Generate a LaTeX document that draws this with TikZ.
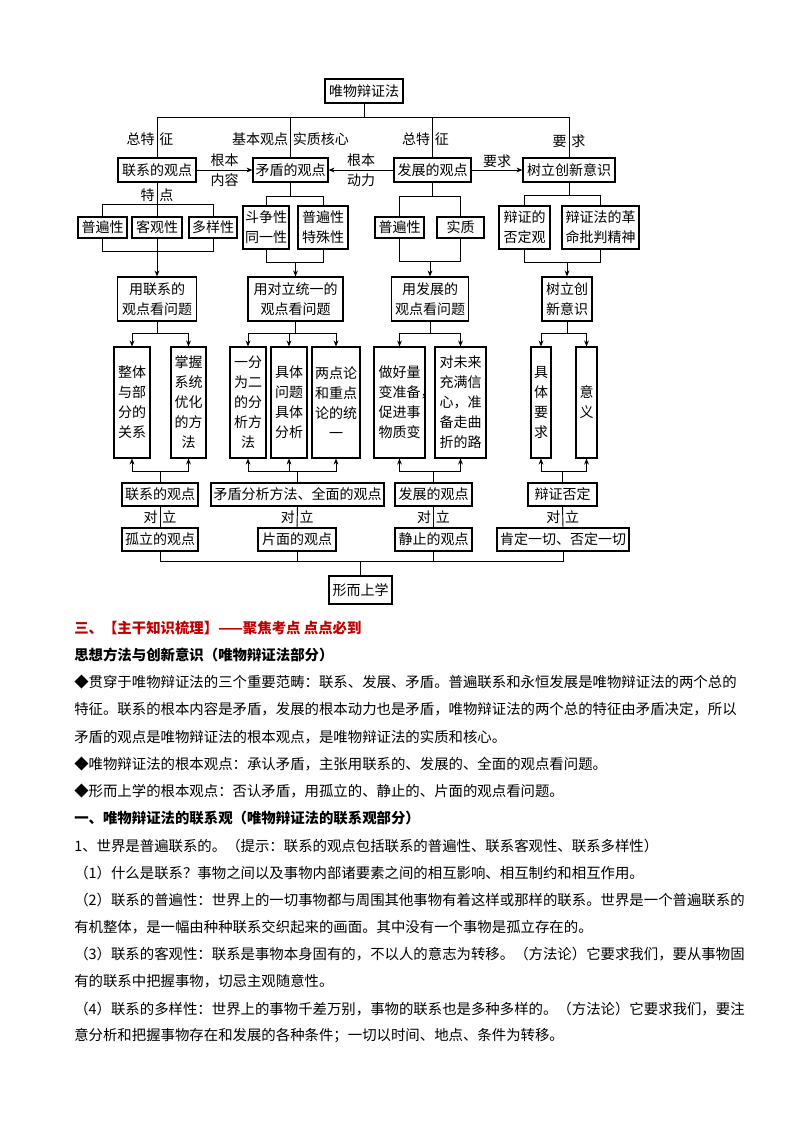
\documentclass[tikz,border=0pt]{standalone}
\usepackage{fontspec}
\setmainfont{Noto Sans CJK SC}
\usepackage{xcolor}
\usetikzlibrary{arrows.meta, positioning, calc}
\definecolor{titlered}{RGB}{192,0,0}
\newcommand{\dgfont}{\fontsize{10.5}{15}\selectfont}
\newcommand{\bodyfont}{\fontsize{10.8}{13}\selectfont}

\begin{document}
\begin{tikzpicture}[x=0.75pt, y=-0.75pt,
    box/.style={rectangle, draw, line width=0.8pt, fill=white, inner sep=0pt, align=center, font=\dgfont},
    tallbox/.style={box, minimum height=83.25pt},
    ln/.style={line width=0.7pt},
    arr/.style={ln, -{Stealth[length=4.5pt, width=3.6pt]}},
    lab/.style={font=\dgfont, inner sep=1.5pt},
    body/.style={anchor=west, inner sep=0pt, font=\bodyfont},
    bodybold/.style={anchor=west, inner sep=0pt, font=\bodyfont\bfseries}
]
    \useasboundingbox (0,0) rectangle (794,1123);

    % 第一层：唯物辩证法
    \node[box, minimum width=58.5pt, minimum height=18pt] (root) at (364,91) {唯物辩证法};

    % 第二层 (y = 170)：四个观点
    \node[box, minimum width=58.5pt, minimum height=18pt] (lianxi) at (157,170) {联系的观点};
    \node[box, minimum width=56.25pt, minimum height=18pt] (maodun) at (290.5,170) {矛盾的观点};
    \node[box, minimum width=57.75pt, minimum height=18pt] (fazhan) at (432.5,170) {发展的观点};
    \node[box, minimum width=69pt, minimum height=18pt] (chuangxin) at (569,170) {树立创新意识};

    \draw[ln] (root.south) -- (root.south |- 0,117);
    \draw[ln] (lianxi.north |- 0,117) -- (chuangxin.north |- 0,117);
    \draw[ln] (lianxi.north |- 0,117) -- node[lab, pos=0.55, left] (zta) {总特} node[lab, pos=0.55, right] (zza) {征} (lianxi.north);
    \draw[ln] (maodun.north |- 0,117) -- node[lab, pos=0.55, left] (jbgd) {基本观点} node[lab, pos=0.55, right] (szhx) {实质核心} (maodun.north);
    \draw[ln] (fazhan.north |- 0,117) -- node[lab, pos=0.55, left] (ztb) {总特} node[lab, pos=0.55, right] (zzb) {征} (fazhan.north);
    \draw[ln] (chuangxin.north |- 0,117) -- node[lab, pos=0.6, left] (yao) {要} node[lab, pos=0.6, right] (qiu) {求} (chuangxin.north);

    \draw[arr] (lianxi.east) -- node[lab, align=center] (gbnr) {根本\\内容} (maodun.west);
    \draw[arr] (fazhan.west) -- node[lab, align=center] (gbdl) {根本\\动力} (maodun.east);
    \draw[arr] (fazhan.east) -- node[lab, above] (yqlab) {要求} (chuangxin.west);

    % 第三层 (y = 227.5)：特点与内容
    \node[box, minimum width=36.75pt, minimum height=15.75pt] (pbxa) at (102.5,227.5) {普遍性};
    \node[box, minimum width=37.5pt, minimum height=15.75pt] (kgx) at (157,227.5) {客观性};
    \node[box, minimum width=36pt, minimum height=15.75pt] (dyx) at (213,227.5) {多样性};
    \node[box, minimum width=34.5pt, minimum height=32.25pt] (dzx) at (266,227.5) {斗争性\\同一性};
    \node[box, minimum width=37.5pt, minimum height=32.25pt] (tsx) at (323,227.5) {普遍性\\特殊性};
    \node[box, minimum width=36.75pt, minimum height=15.75pt] (pbxb) at (399.5,227.5) {普遍性};
    \node[box, minimum width=35.25pt, minimum height=15.75pt] (shizhi) at (460.5,227.5) {实质};
    \node[box, minimum width=38.25pt, minimum height=32.25pt] (fdg) at (524.5,227.5) {辩证的\\否定观};
    \node[box, minimum width=57.75pt, minimum height=32.25pt] (ppjs) at (600.5,227.5) {辩证法的革\\命批判精神};

    % 第四层 (y = 299)：看问题
    \node[box, minimum width=59.25pt, minimum height=33pt] (ylx) at (157,299) {用联系的\\观点看问题};
    \node[box, minimum width=71.25pt, minimum height=33pt] (ydl) at (295.5,299) {用对立统一的\\观点看问题};
    \node[box, minimum width=57.75pt, minimum height=33pt] (yfz) at (430,299) {用发展的\\观点看问题};
    \node[box, minimum width=37.5pt, minimum height=33pt] (slcx) at (567,299) {树立创\\新意识};

    % 联系 分组
    \draw[ln] (lianxi.south) -- node[lab, pos=0.37, left] (tea) {特} node[lab, pos=0.37, right] (dian) {点} (kgx.north);
    \draw[ln] (pbxa.north) |- (dyx.north |- 0,204) -- (dyx.north);
    \draw[ln] (pbxa.south) |- (dyx.south |- 0,251) -- (dyx.south);
    \draw[arr] (kgx.south) -- (ylx.north);

    % 矛盾 分组
    \draw[ln] (maodun.south) -- (maodun.south |- 0,196);
    \draw[ln] (dzx.north) |- (tsx.north |- 0,196) -- (tsx.north);
    \draw[ln] (dzx.south) |- (tsx.south |- 0,262) -- (tsx.south);
    \draw[arr] (ydl.north |- 0,262) -- (ydl.north);

    % 发展 分组
    \draw[ln] (fazhan.south) -- (fazhan.south |- 0,196);
    \draw[ln] (pbxb.north) |- (shizhi.north |- 0,196) -- (shizhi.north);
    \draw[ln] (pbxb.south) |- (shizhi.south |- 0,261) -- (shizhi.south);
    \draw[arr] (yfz.north |- 0,261) -- (yfz.north);

    % 创新 分组
    \draw[ln] (chuangxin.south) -- (chuangxin.south |- 0,195);
    \draw[ln] (fdg.north) |- (ppjs.north |- 0,195) -- (ppjs.north);
    \draw[ln] (fdg.south) |- (ppjs.south |- 0,262) -- (ppjs.south);
    \draw[arr] (slcx.north |- 0,262) -- (slcx.north);

    % 第五层 (y = 402.5)：方法论竖框
    \node[tallbox, minimum width=27pt] (zt) at (132,402.5) {整体\\与部\\分的\\关系};
    \node[tallbox, minimum width=26.25pt] (zw) at (188.5,402.5) {掌握\\系统\\优化\\的方\\法};
    \node[tallbox, minimum width=27pt] (yf) at (248,402.5) {一分\\为二\\的分\\析方\\法};
    \node[tallbox, minimum width=27pt] (jt) at (289,402.5) {具体\\问题\\具体\\分析};
    \node[tallbox, minimum width=36pt] (ld) at (336,402.5) {两点论\\和重点\\论的统\\一};
    \node[tallbox, minimum width=38.25pt] (zh) at (399.5,402.5) {做好量\\变准备\rlap{，}\\促进事\\物质变};
    \node[tallbox, minimum width=38.25pt] (dw) at (460.5,402.5) {对未来\\充满信\\心，准\\备走曲\\折的路};
    \node[tallbox, minimum width=15pt] (jtyq) at (541,402.5) {具\\体\\要\\求};
    \node[tallbox, minimum width=15.75pt] (yy) at (586.5,402.5) {意\\义};

    \draw[arr] (ylx.south) -- ++(0,12) -| (zt.north);
    \draw[arr] (ylx.south) -- ++(0,12) -| (zw.north);
    \draw[arr] (ydl.south) -- ++(0,12) -| (yf.north);
    \draw[arr] (ydl.south) -- ++(0,12) -| (jt.north);
    \draw[arr] (ydl.south) -- ++(0,12) -| (ld.north);
    \draw[arr] (yfz.south) -- ++(0,12) -| (zh.north);
    \draw[arr] (yfz.south) -- ++(0,12) -| (dw.north);
    \draw[arr] (slcx.south) -- ++(0,12) -| (jtyq.north);
    \draw[arr] (slcx.south) -- ++(0,12) -| (yy.north);

    % 第六层 (y = 494.5) 与第七层 (y = 539.5)：对立的观点
    \node[box, minimum width=57pt, minimum height=17.25pt] (glx) at (160,494.5) {联系的观点};
    \node[box, minimum width=129.75pt, minimum height=17.25pt] (qm) at (297.5,494.5) {矛盾分析方法、全面的观点};
    \node[box, minimum width=57.75pt, minimum height=17.25pt] (fzgd) at (433.5,494.5) {发展的观点};
    \node[box, minimum width=51.75pt, minimum height=17.25pt] (bzfd) at (562.5,494.5) {辩证否定};

    \node[box, minimum width=57pt, minimum height=17.25pt] (gl) at (160,539.5) {孤立的观点};
    \node[box, minimum width=58.5pt, minimum height=17.25pt] (pm) at (297,539.5) {片面的观点};
    \node[box, minimum width=57.75pt, minimum height=17.25pt] (jz) at (433.5,539.5) {静止的观点};
    \node[box, minimum width=99pt, minimum height=17.25pt] (kd) at (563,539.5) {肯定一切、否定一切};

    \draw[arr] (glx.north) -- ++(0,-11) -| (zt.south);
    \draw[arr] (glx.north) -- ++(0,-11) -| (zw.south);
    \draw[arr] (qm.north) -- ++(0,-11) -| (yf.south);
    \draw[arr] (qm.north) -- ++(0,-11) -| (jt.south);
    \draw[arr] (qm.north) -- ++(0,-11) -| (ld.south);
    \draw[arr] (fzgd.north) -- ++(0,-11) -| (zh.south);
    \draw[arr] (fzgd.north) -- ++(0,-11) -| (dw.south);
    \draw[arr] (bzfd.north) -- ++(0,-11) -| (jtyq.south);
    \draw[arr] (bzfd.north) -- ++(0,-11) -| (yy.south);

    \draw[ln] (glx.south) -- node[lab, left] (dui1) {对} node[lab, right] (li1) {立} (gl.north);
    \draw[ln] (qm.south) -- node[lab, left] (dui2) {对} node[lab, right] (li2) {立} (pm.north);
    \draw[ln] (fzgd.south) -- node[lab, left] (dui3) {对} node[lab, right] (li3) {立} (jz.north);
    \draw[ln] (bzfd.south) -- node[lab, left] (dui4) {对} node[lab, right] (li4) {立} (kd.north);

    % 第八层：形而上学
    \node[box, minimum width=47.25pt, minimum height=21pt] (xsx) at (360.5,590) {形而上学};
    \draw[ln] (gl.south) |- (kd.south |- 0,561) -- (kd.south);
    \draw[ln] (pm.south) -- (pm.south |- 0,561);
    \draw[ln] (jz.south) -- (jz.south |- 0,561);
    \draw[ln] (xsx.north) -- (xsx.north |- 0,561);

    % 正文
    \node[bodybold, text=titlered] (h1) at (74,628) {三、【主干知识梳理】——聚焦考点\ 点点必到};
    \node[bodybold] (h2) at (74,655.2) {思想方法与创新意识（唯物辩证法部分）};
    \node[body] (p1) at (74,682.4) {◆贯穿于唯物辩证法的三个重要范畴：联系、发展、矛盾。普遍联系和永恒发展是唯物辩证法的两个总的};
    \node[body] (p2) at (74,709.6) {特征。联系的根本内容是矛盾，发展的根本动力也是矛盾，唯物辩证法的两个总的特征由矛盾决定，所以};
    \node[body] (p3) at (74,736.8) {矛盾的观点是唯物辩证法的根本观点，是唯物辩证法的实质和核心。};
    \node[body] (p4) at (74,764) {◆唯物辩证法的根本观点：承认矛盾，主张用联系的、发展的、全面的观点看问题。};
    \node[body] (p5) at (74,791.2) {◆形而上学的根本观点：否认矛盾，用孤立的、静止的、片面的观点看问题。};
    \node[bodybold] (h3) at (74,818.4) {一、唯物辩证法的联系观（唯物辩证法的联系观部分）};
    \node[body] (p6) at (74,845.6) {1、世界是普遍联系的。（提示：联系的观点包括联系的普遍性、联系客观性、联系多样性）};
    \node[body] (p7) at (74,872.8) {（1）什么是联系？事物之间以及事物内部诸要素之间的相互影响、相互制约和相互作用。};
    \node[body] (p8) at (74,900) {（2）联系的普遍性：世界上的一切事物都与周围其他事物有着这样或那样的联系。世界是一个普遍联系的};
    \node[body] (p9) at (74,927.2) {有机整体，是一幅由种种联系交织起来的画面。其中没有一个事物是孤立存在的。};
    \node[body] (p10) at (74,954.4) {（3）联系的客观性：联系是事物本身固有的，不以人的意志为转移。（方法论）它要求我们，要从事物固};
    \node[body] (p11) at (74,981.6) {有的联系中把握事物，切忌主观随意性。};
    \node[body] (p12) at (74,1008.8) {（4）联系的多样性：世界上的事物千差万别，事物的联系也是多种多样的。（方法论）它要求我们，要注};
    \node[body] (p13) at (74,1036) {意分析和把握事物存在和发展的各种条件；一切以时间、地点、条件为转移。};
\end{tikzpicture}
\end{document}
